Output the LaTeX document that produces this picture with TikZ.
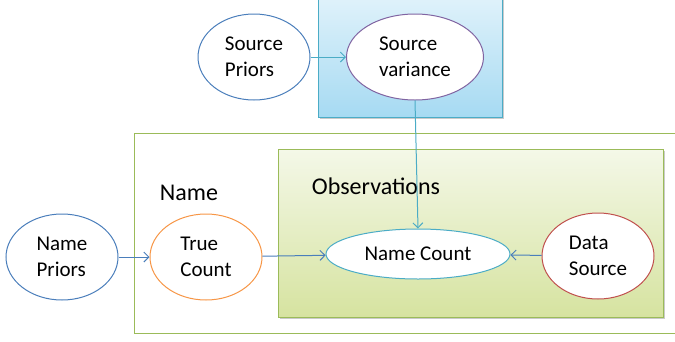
\documentclass[tikz,border=0pt]{standalone}
\usepackage{fontspec}
\setmainfont{Carlito}
\usetikzlibrary{shapes.geometric,arrows.meta,shadows}
\definecolor{cblue}{HTML}{4A7EBB}
\definecolor{cpurple}{HTML}{8064A2}
\definecolor{corange}{HTML}{F79646}
\definecolor{cred}{HTML}{C0504D}
\definecolor{cteal}{HTML}{4BACC6}
\definecolor{cgreen}{HTML}{9BBB59}
\definecolor{bluetop}{HTML}{E2F3FB}
\definecolor{bluebot}{HTML}{A6DAF2}
\definecolor{greentop}{HTML}{F4F8E8}
\definecolor{greenbot}{HTML}{D6E3A0}
\tikzset{
  ell/.style={ellipse, line width=1pt, fill=white, align=left, inner sep=0pt,
              minimum width=112pt, minimum height=86pt},
  arr/.style={line width=1pt, -{Straight Barb[length=5pt,width=10pt]}},
  plateshadow/.style={drop shadow={shadow xshift=2pt, shadow yshift=-2pt, opacity=0.35, fill=black!60}},
  lbl/.style={inner sep=0pt, font=\fontsize{24}{29}\selectfont}
}
\begin{document}
\begin{tikzpicture}[x=1pt,y=-1pt,font=\fontsize{21}{26}\selectfont]
\useasboundingbox (0,0) rectangle (675,341);
% source variance plate
\draw[cteal, line width=1pt, top color=bluetop, bottom color=bluebot, plateshadow] (318,-8) rectangle (502,117);
% name plate
\draw[cgreen, line width=1pt] (134,133) rectangle (700,333);
% observations plate
\draw[cgreen, line width=1pt, top color=greentop, bottom color=greenbot, plateshadow] (278,149) rectangle (663,317);

\node[lbl] (namelbl) at (189,193) {Name};
\node[lbl] (obslbl) at (376,186) {Observations};

\node[ell, draw=cblue] (sp) at (254,57) {Source\\Priors};
\node[ell, draw=cpurple, minimum width=137pt] (sv) at (415,57) {Source\\variance};
\node[ell, draw=cblue] (np) at (62,257) {Name\\Priors};
\node[ell, draw=corange] (tc) at (206,257) {True\\Count};
\node[ellipse, line width=1pt, fill=white, draw=cteal, inner sep=0pt, minimum width=184pt, minimum height=50pt] (nc) at (418,254) {Name Count};
\node[ell, draw=cred] (ds) at (598,256) {Data\\Source};

\draw[arr, cteal] (sp) -- (sv);
\draw[arr, cteal] (sv.south) -- (nc.north);
\draw[arr, cblue] (np) -- (tc);
\draw[arr, cblue] (tc) -- (nc);
\draw[arr, cblue] (ds) -- (nc);
\end{tikzpicture}
\end{document}
